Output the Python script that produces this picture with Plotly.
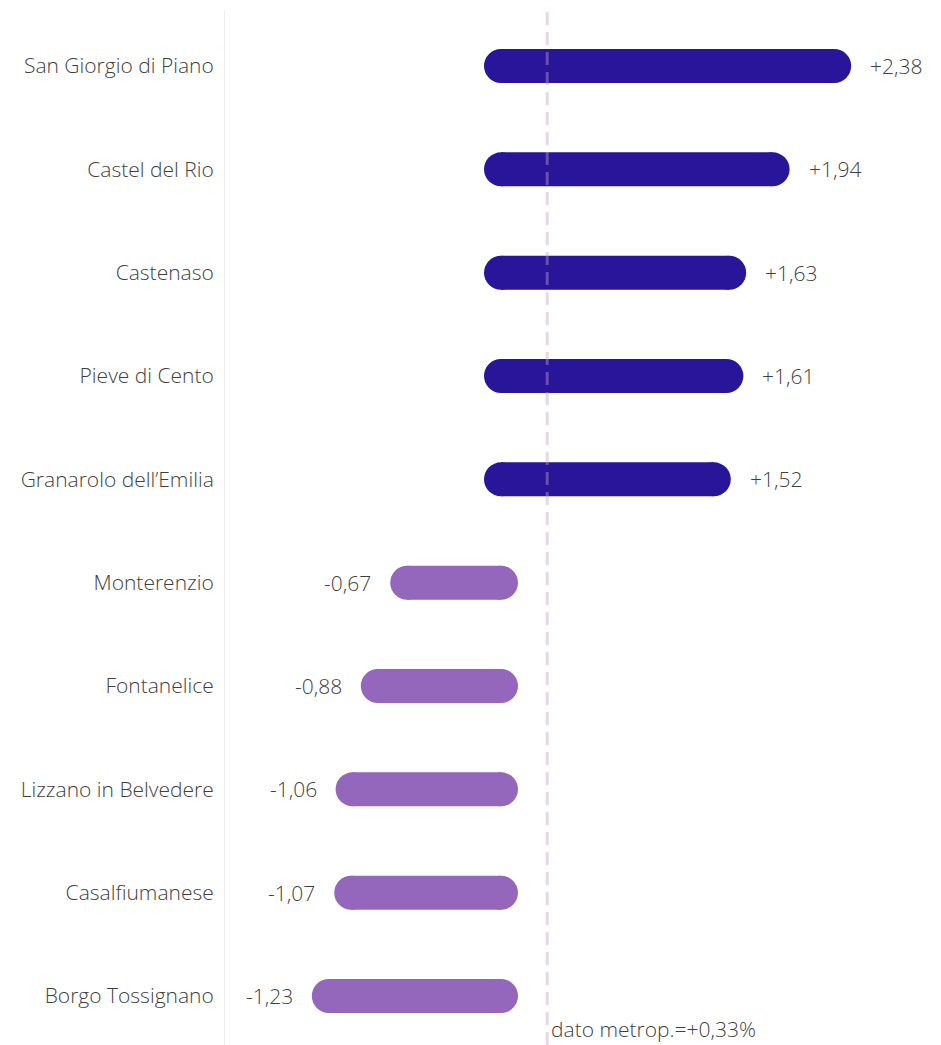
import plotly.graph_objects as go

categories = ["San Giorgio di Piano", "Castel del Rio", "Castenaso", "Pieve di Cento",
              "Granarolo dell\u2019Emilia", "Monterenzio", "Fontanelice",
              "Lizzano in Belvedere", "Casalfiumanese", "Borgo Tossignano"]
values = [2.38, 1.94, 1.63, 1.61, 1.52, -0.67, -0.88, -1.06, -1.07, -1.23]
metro_value = 0.33

POS_COLOR = "#29159a"
NEG_COLOR = "#9467bd"
TEXT_COLOR = "#3f3f3f"
FONT = "Open Sans"
FS = 21
FW = 300

fig = go.Figure()

for color, keep in [(POS_COLOR, lambda v: v >= 0), (NEG_COLOR, lambda v: v < 0)]:
    xs, ys = [], []
    for i, v in enumerate(values):
        if keep(v):
            xs += [0, v, None]
            ys += [i, i, None]
    fig.add_trace(go.Scatter(
        x=xs, y=ys, mode="lines+markers",
        line=dict(color=color, width=34),
        marker=dict(color=color, size=34, line=dict(width=0)),
        hoverinfo="skip", showlegend=False,
    ))

for i, v in enumerate(values):
    label = f"{v:+.2f}".replace(".", ",")
    fig.add_annotation(
        x=v, y=i, text=label, showarrow=False,
        xanchor="left" if v >= 0 else "right",
        xshift=34 if v >= 0 else -34,
        font=dict(family=FONT, size=FS, color=TEXT_COLOR, weight=FW),
    )

fig.add_shape(type="line", x0=metro_value, x1=metro_value, y0=0, y1=1,
              xref="x", yref="paper",
              line=dict(color="rgba(200,160,200,0.42)", width=3, dash="13px,7px"),
              layer="above")

fig.add_annotation(
    x=metro_value, y=0, xref="x", yref="paper",
    text="dato metrop.=+" + f"{metro_value:.2f}".replace(".", ",") + "%",
    showarrow=False, xanchor="left", yanchor="bottom", xshift=2, yshift=0,
    font=dict(family=FONT, size=FS, color=TEXT_COLOR, weight=FW),
)

# the page adds an 8px body margin, so the figure is shrunk and shifted to compensate
fig.update_layout(
    width=933, height=1037,
    margin=dict(l=217, r=0, t=2, b=0),
    paper_bgcolor="white", plot_bgcolor="white",
    font=dict(family=FONT, size=FS, color=TEXT_COLOR, weight=FW),
    xaxis=dict(range=[-1.9714, 3.1429], showgrid=False, zeroline=False,
               showticklabels=False, showline=False),
    yaxis=dict(range=[9.474, -0.542], tickmode="array",
               tickvals=list(range(len(categories))), ticktext=categories,
               showgrid=False, zeroline=False, showline=True,
               linecolor="#efefef", linewidth=1, ticks="",
               ticklabelstandoff=6,
               tickfont=dict(family=FONT, size=FS, color=TEXT_COLOR, weight=FW)),
)

fig.write_html("out.html")
